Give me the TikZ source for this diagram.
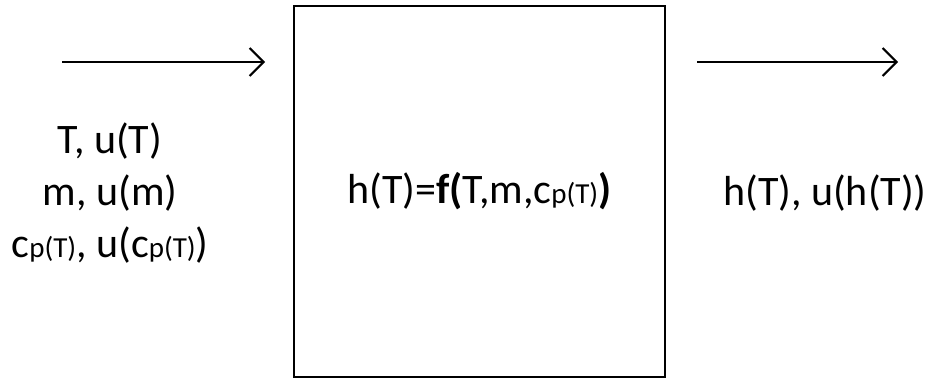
\documentclass[tikz,border=0pt]{standalone}
\usepackage{fontspec}
\setmainfont{Carlito}
\usepackage{tikz}
\usetikzlibrary{positioning, arrows.meta}

% small p(T) index after c
\newcommand{\cpT}{c{\fontsize{29}{29}\selectfont p(T)}}

\begin{document}
\begin{tikzpicture}[
    x=1pt, y=-1pt,
    blockbox/.style={draw, line width=2pt, minimum width=371pt, minimum height=371pt, inner sep=0pt},
    txt/.style={font=\fontsize{42}{52}\selectfont, align=center, inner sep=0pt},
    arr/.style={-{Straight Barb[length=14pt, width=28pt]}, line width=2pt}
]
\useasboundingbox (0,0) rectangle (928,379);
% the model block
\node[blockbox] (block) at (479.5,191.5) {};
\node[txt] (model) at (block.center) {h(T)=\textbf{f(}T,m,\cpT\textbf{)}};
% inputs on the left
\node[txt] (inputs) at (110,193) {T, u(T)\\m, u(m)\\\cpT, u(\cpT)};
% output on the right
\node[txt] (output) at (825,193) {h(T), u(h(T))};
% arrows
\coordinate (inS) at (62,62);
\coordinate (inE) at (265,62);
\coordinate (outS) at (697,62);
\coordinate (outE) at (898,62);
\draw[arr] (inS) -- (inE);
\draw[arr] (outS) -- (outE);
\end{tikzpicture}
\end{document}
